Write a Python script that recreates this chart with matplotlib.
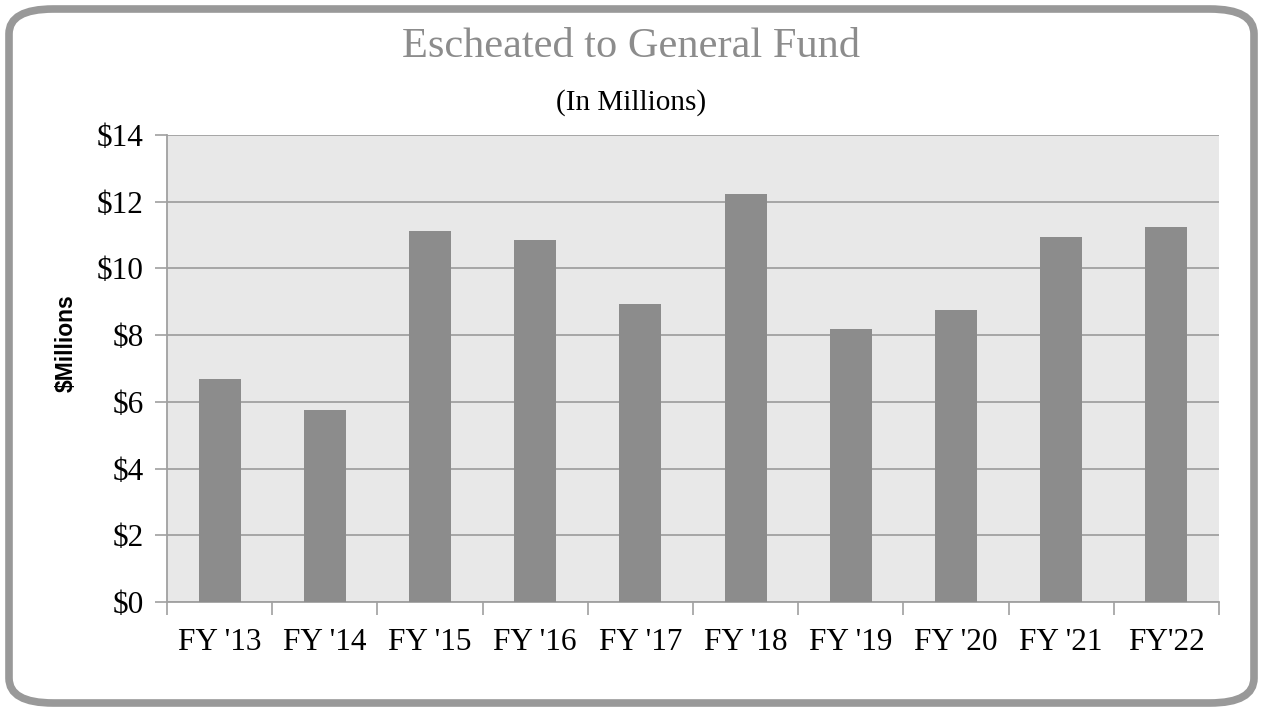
import matplotlib.pyplot as plt
from matplotlib.patches import FancyBboxPatch

# data
years = ["FY '13", "FY '14", "FY '15", "FY '16", "FY '17",
         "FY '18", "FY '19", "FY '20", "FY '21", "FY'22"]
escheated = [6.68, 5.76, 11.12, 10.85, 8.92, 12.24, 8.18, 8.75, 10.93, 11.25]
yticks = [0, 2, 4, 6, 8, 10, 12, 14]
ytick_labels = ["$0", "$2", "$4", "$6", "$8", "$10", "$12", "$14"]

W, H = 1263, 712
fig = plt.figure(figsize=(W / 100, H / 100), dpi=100)
fig.patch.set_facecolor("white")

# rounded gray frame round the whole chart
frame = FancyBboxPatch((9 / W, 9 / H), 1 - 18 / W, 1 - 18 / H,
                       boxstyle="round,pad=0,rounding_size=0.035",
                       transform=fig.transFigure, facecolor="none",
                       edgecolor="#999999", linewidth=5.5, zorder=5)
fig.patches.append(frame)

ax = fig.add_axes([167 / W, 1 - 602 / H, (1219 - 167) / W, (602 - 135) / H])
ax.set_facecolor("#e8e8e8")

x = range(len(years))
ax.bar(x, escheated, width=0.4, color="#8c8c8c", zorder=3)

ax.set_xlim(-0.5, len(years) - 0.5)
ax.set_ylim(0, 14)
ax.set_yticks(yticks)
ax.set_yticklabels(ytick_labels, fontsize=22.5, fontfamily="Liberation Serif")
ax.set_xticks([i - 0.5 for i in range(len(years) + 1)], minor=False)
ax.set_xticklabels([])
ax.set_xticks(list(x), minor=True)
ax.set_xticklabels(years, minor=True, fontsize=22.5, fontfamily="Liberation Serif")
ax.tick_params(axis="x", which="minor", length=0, pad=19)
ax.tick_params(axis="x", which="major", length=9, color="#a0a0a0", width=1.2)
ax.tick_params(axis="y", length=9, color="#a0a0a0", width=1.2, pad=8)

ax.grid(axis="y", color="#a0a0a0", linewidth=1.3, zorder=1)
for s in ["top", "right"]:
    ax.spines[s].set_visible(False)
for s in ["left", "bottom"]:
    ax.spines[s].set_color("#a0a0a0")
    ax.spines[s].set_linewidth(1.3)

fig.text(66 / W, 1 - 343 / H, "$Millions", rotation=90, ha="center", va="center",
         fontsize=16.5, fontweight="bold", fontfamily="Liberation Sans")

fig.text(0.5, 1 - 47 / H, "Escheated to General Fund", ha="center", va="center",
         fontsize=30.5, color="#8c8c8c", fontfamily="Liberation Serif")
fig.text(0.5, 1 - 103 / H, "(In Millions)", ha="center", va="center",
         fontsize=21, color="black", fontfamily="Liberation Serif")

fig.savefig("out.png", dpi=100)
